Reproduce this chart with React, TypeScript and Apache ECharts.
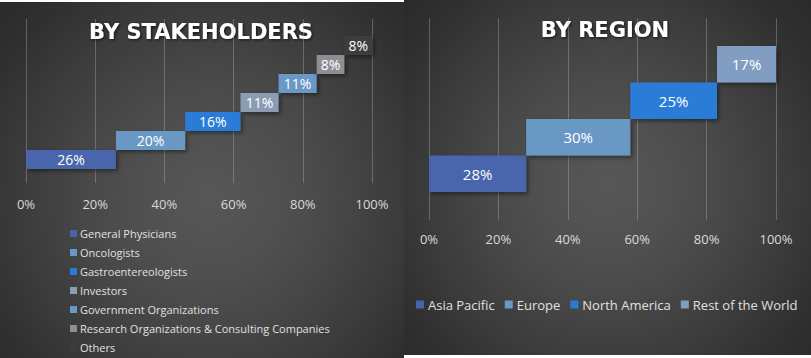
import React, { useEffect, useRef } from 'react';
import * as echarts from 'echarts';

const stakeholderNames = [
  'General Physicians',
  'Oncologists',
  'Gastroentereologists',
  'Investors',
  'Government Organizations',
  'Research Organizations & Consulting Companies',
  'Others',
];
const stakeholderValues = [26, 20, 16, 11, 11, 8, 8];

const regionNames = ['Asia Pacific', 'Europe', 'North America', 'Rest of the World'];
const regionValues = [28, 30, 25, 17];

const axisMin = 0;
const axisMax = 100;
const axisStep = 20;

const stakeholderColors = ['#4865ab', '#6a98c5', '#297cd6', '#8b9cb3', '#6a98c6', '#8f8e93', '#3c3c3c'];
const regionColors = ['#4865ab', '#6a98c5', '#297cd6', '#819dc2'];

const FONT = '"Open Sans", "Noto Sans", sans-serif';
const TITLE_FONT = '"DejaVu Sans", "Open Sans", sans-serif';
const GRIDLINE = 'rgba(190,190,190,0.35)';

function waterfall(names: string[], values: number[], colors: string[], stack: string, axisIdx: number, labelSize: number) {
  const offsets = values.map((_, i) => values.slice(0, i).reduce((a, b) => a + b, 0));
  const series: any[] = [
    {
      type: 'bar',
      name: stack + '-base',
      stack,
      xAxisIndex: axisIdx,
      yAxisIndex: axisIdx,
      data: offsets,
      barCategoryGap: '0%',
      itemStyle: { color: 'rgba(0,0,0,0)' },
      silent: true,
      label: { show: false },
    },
  ];
  names.forEach((n, i) => {
    series.push({
      type: 'bar',
      name: n,
      stack,
      xAxisIndex: axisIdx,
      yAxisIndex: axisIdx,
      barCategoryGap: '0%',
      data: values.map((v, j) => (j === i ? v : '-')),
      itemStyle: {
        color: colors[i],
        shadowBlur: 4,
        shadowColor: 'rgba(0,0,0,0.45)',
        shadowOffsetX: 2,
        shadowOffsetY: 2,
      },
      label: {
        show: true,
        position: 'inside',
        formatter: '{c}%',
        color: '#ffffff',
        fontSize: labelSize,
        fontFamily: FONT,
      },
    });
  });
  return series;
}

function valueAxis(gridIndex: number, shown: boolean, margin: number) {
  return {
    gridIndex,
    type: 'value',
    min: axisMin,
    max: axisMax,
    interval: axisStep,
    show: shown,
    axisLine: { show: false },
    axisTick: { show: false },
    splitLine: { show: shown, lineStyle: { color: GRIDLINE, width: 1 } },
    axisLabel: {
      formatter: '{value}%',
      color: '#d9d9d9',
      fontSize: 13,
      margin,
      fontFamily: FONT,
    },
  };
}

export default function App() {
  const ref = useRef<HTMLDivElement>(null);

  useEffect(() => {
    if (!ref.current) return;
    const chart = echarts.init(ref.current, undefined, { renderer: 'svg' });
    const titleStyle = (text: string) => ({
      text,
      fill: '#ffffff',
      fontSize: 21,
      fontWeight: 'bold',
      fontFamily: TITLE_FONT,
      align: 'center',
      verticalAlign: 'middle',
      textAlign: 'center',
      textVerticalAlign: 'middle',
      textShadowColor: 'rgba(0,0,0,0.7)',
      textShadowBlur: 3,
      textShadowOffsetX: 1,
      textShadowOffsetY: 1,
    });
    chart.setOption({
      animation: false,
      backgroundColor: 'transparent',
      graphic: [
        { type: 'text', x: 201, y: 32, style: titleStyle('BY STAKEHOLDERS') },
        { type: 'text', x: 605, y: 30, style: titleStyle('BY REGION') },
      ],
      grid: [
        { left: 26, top: 36, width: 346, height: 133 },
        { left: 26, top: 19, width: 346, height: 164 },
        { left: 429, top: 46, width: 347, height: 146 },
        { left: 429, top: 18, width: 347, height: 202 },
      ],
      xAxis: [valueAxis(0, false, 0), valueAxis(1, true, 14), valueAxis(2, false, 0), valueAxis(3, true, 12)],
      yAxis: [
        { gridIndex: 0, type: 'category', data: stakeholderNames, show: false },
        { gridIndex: 1, type: 'value', min: 0, max: 1, show: false },
        { gridIndex: 2, type: 'category', data: regionNames, show: false },
        { gridIndex: 3, type: 'value', min: 0, max: 1, show: false },
      ],
      legend: [
        {
          data: stakeholderNames,
          orient: 'vertical',
          left: 70,
          top: 227,
          padding: 0,
          itemWidth: 7,
          itemHeight: 7,
          itemGap: 6,
          icon: 'rect',
          selectedMode: false,
          itemStyle: { shadowBlur: 0, shadowColor: 'rgba(0,0,0,0)', shadowOffsetX: 0, shadowOffsetY: 0 },
          textStyle: { color: '#e0e0e0', fontSize: 11, lineHeight: 13, fontFamily: FONT, padding: [0, 0, 0, -2] },
        },
        {
          data: regionNames,
          orient: 'horizontal',
          left: 416,
          top: 298,
          padding: 0,
          itemWidth: 8,
          itemHeight: 8,
          itemGap: 10,
          icon: 'rect',
          selectedMode: false,
          itemStyle: { shadowBlur: 0, shadowColor: 'rgba(0,0,0,0)', shadowOffsetX: 0, shadowOffsetY: 0 },
          textStyle: { color: '#e0e0e0', fontSize: 13, fontFamily: FONT, padding: [0, 0, 0, -1] },
        },
      ],
      series: [
        ...waterfall(stakeholderNames, stakeholderValues, stakeholderColors, 'left', 0, 14),
        ...waterfall(regionNames, regionValues, regionColors, 'right', 2, 15),
      ],
    });
    return () => chart.dispose();
  }, []);

  const panelBg = (cx: string, cy: string) =>
    `radial-gradient(circle at ${cx} ${cy}, #575757 0%, #505050 25%, #474747 45%, #3c3c3c 65%, #303030 85%, #2a2a2a 100%)`;

  return (
    <div style={{ position: 'absolute', left: 0, top: 0, width: 811, height: 358, background: '#ffffff', overflow: 'hidden' }}>
      <div style={{ position: 'absolute', left: 0, top: 2, width: 404, height: 356, background: panelBg('52%', '55%') }} />
      <div style={{ position: 'absolute', left: 404, top: 0, width: 407, height: 355, background: panelBg('50%', '52%') }} />
      <div ref={ref} style={{ position: 'absolute', left: 0, top: 0, width: 811, height: 358 }} />
    </div>
  );
}
